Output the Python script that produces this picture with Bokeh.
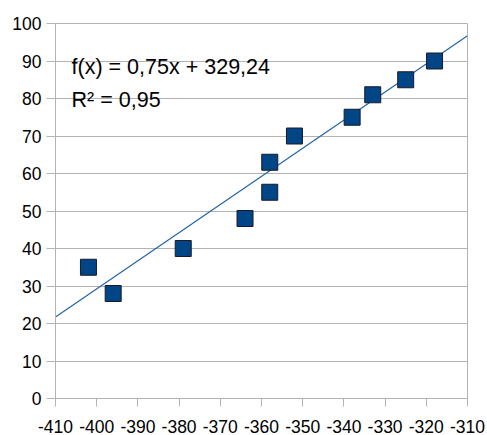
from bokeh.plotting import figure
from bokeh.models import Label, FixedTicker, Range1d, CustomJSTickFormatter
from bokeh.embed import file_html
from bokeh.resources import INLINE

x_vals = [-402, -396, -379, -364, -358, -358, -352, -338, -333, -325, -318]
y_vals = [35, 28, 40, 48, 63, 55, 70, 75, 81, 85, 90]
slope = 0.75
intercept = 329.24
x_ticks = list(range(-410, -309, 10))
y_ticks = list(range(0, 101, 10))
eq_text = "f(x) = 0,75x + 329,24"
r2_text = "R² = 0,95"

FONT = "Liberation Sans"
GRID = "#b3b3b3"

p = figure(width=487, height=440, output_backend="svg", toolbar_location=None,
           x_range=Range1d(-410, -310), y_range=Range1d(0, 100),
           min_border_left=55, min_border_right=20, min_border_top=23, min_border_bottom=42)
p.outline_line_color = GRID
p.background_fill_color = "white"
p.border_fill_color = "white"

p.xgrid.visible = False
p.ygrid.grid_line_color = GRID
p.ygrid.grid_line_width = 1

fmt = CustomJSTickFormatter(code="return String(tick);")
for ax in (p.xaxis[0], p.yaxis[0]):
    ax.axis_line_color = GRID
    ax.major_tick_line_color = GRID
    ax.minor_tick_line_color = None
    ax.major_tick_in = 0
    ax.major_label_text_font = FONT
    ax.major_label_text_font_size = "17.5px"
    ax.major_label_text_color = "#000000"
    ax.formatter = fmt

p.xaxis.ticker = FixedTicker(ticks=x_ticks)
p.yaxis.ticker = FixedTicker(ticks=y_ticks)
p.xaxis.major_tick_out = 8
p.yaxis.major_tick_out = 9
p.xaxis.major_label_standoff = 13
p.yaxis.major_label_standoff = 5

x0, x1 = x_ticks[0], x_ticks[-1]
p.line([x0, x1], [slope * x0 + intercept, slope * x1 + intercept],
       line_color="#1f5fa8", line_width=1.1)

p.scatter(x_vals, y_vals, marker="square", size=16,
          fill_color="#004586", line_color="#1a1a2a", line_width=1)

p.add_layout(Label(x=-406.1, y=88.5, text=eq_text, text_font=FONT,
                   text_font_size="21.5px", text_color="#000000",
                   text_baseline="alphabetic"))
p.add_layout(Label(x=-406.1, y=79.7, text=r2_text, text_font=FONT,
                   text_font_size="21.5px", text_color="#000000",
                   text_baseline="alphabetic"))

open("out.html", "w").write(file_html(p, INLINE))
